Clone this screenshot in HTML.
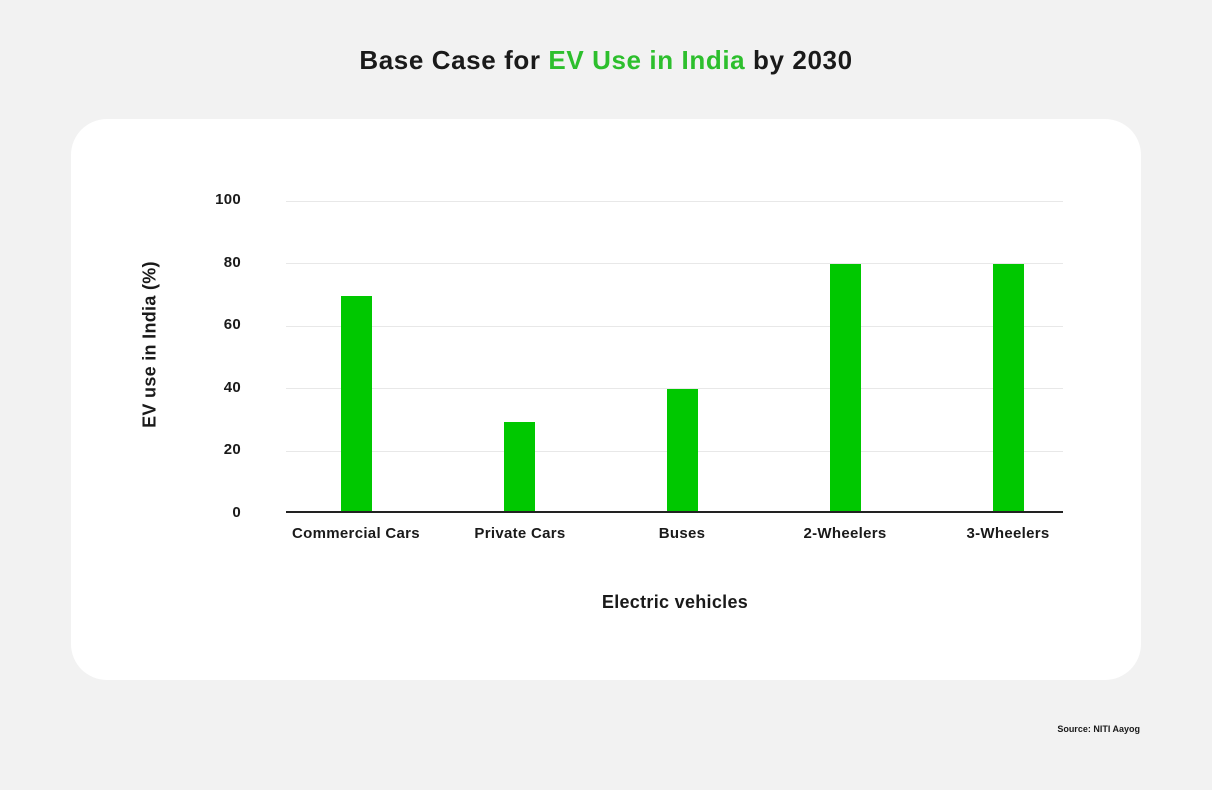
<!DOCTYPE html>
<html><head><meta charset="utf-8"><style>
body{margin:0;width:1212px;height:790px;background:#f2f2f2;font-family:"Liberation Sans",sans-serif;position:relative;overflow:hidden;color:#1a1a1a}
.t{position:absolute;top:45px;left:0;width:1212px;text-align:center;font-size:26px;font-weight:bold;letter-spacing:0.6px}
.card{position:absolute;left:71px;top:119px;width:1070px;height:561px;background:#fff;border-radius:36px}
.a{position:absolute;font-weight:bold;font-size:15px;letter-spacing:0.3px}
.g{position:absolute;left:286px;width:777px;height:1px;background:#e8e8e8}
.bar{position:absolute;width:31px;background:#00c800}
</style></head><body>
<div class="t">Base Case for <span style="color:#2dbf2d">EV Use in India</span> by 2030</div>
<div class="card"></div>
<div class="g" style="top:201px"></div>
<div class="g" style="top:263px"></div>
<div class="g" style="top:326px"></div>
<div class="g" style="top:388px"></div>
<div class="g" style="top:451px"></div>
<div class="g" style="top:511px;height:1.5px;background:#222"></div>
<div class="a" style="left:190px;width:51px;text-align:right;top:191px">100</div>
<div class="a" style="left:190px;width:51px;text-align:right;top:254px">80</div>
<div class="a" style="left:190px;width:51px;text-align:right;top:316px">60</div>
<div class="a" style="left:190px;width:51px;text-align:right;top:379px">40</div>
<div class="a" style="left:190px;width:51px;text-align:right;top:441px">20</div>
<div class="a" style="left:190px;width:51px;text-align:right;top:504px">0</div>
<div class="bar" style="left:341px;top:296px;height:215px"></div>
<div class="bar" style="left:504px;top:422px;height:89px"></div>
<div class="bar" style="left:667px;top:389px;height:122px"></div>
<div class="bar" style="left:830px;top:264px;height:247px"></div>
<div class="bar" style="left:993px;top:264px;height:247px"></div>
<div class="a" style="left:256px;width:200px;text-align:center;top:525px">Commercial Cars</div>
<div class="a" style="left:420px;width:200px;text-align:center;top:525px">Private Cars</div>
<div class="a" style="left:582px;width:200px;text-align:center;top:525px">Buses</div>
<div class="a" style="left:745px;width:200px;text-align:center;top:525px">2-Wheelers</div>
<div class="a" style="left:908px;width:200px;text-align:center;top:525px">3-Wheelers</div>
<div class="a" style="left:475px;width:400px;text-align:center;top:592px;font-size:18px">Electric vehicles</div>
<div class="a" style="left:50px;width:200px;text-align:center;top:334px;font-size:18px;transform:rotate(-90deg)">EV use in India (%)</div>
<div class="a" style="left:940px;width:200px;text-align:right;top:724px;font-size:9px;letter-spacing:0">Source: NITI Aayog</div>
</body></html>
